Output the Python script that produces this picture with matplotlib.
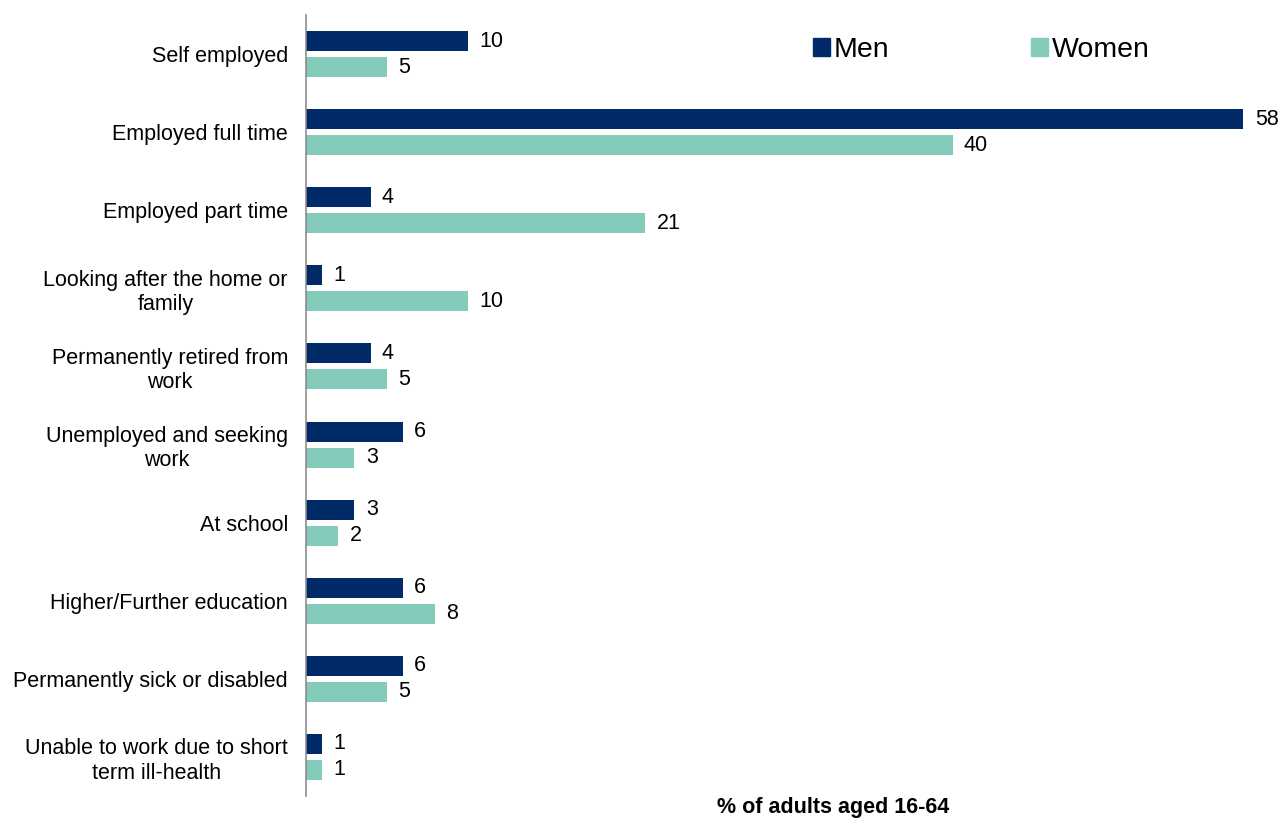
import matplotlib.pyplot as plt
from matplotlib.patches import Patch

plt.rcParams['font.family'] = ['Liberation Sans', 'DejaVu Sans']

# economic activity by sex, adults aged 16-64
categories = [
    "Self employed",
    "Employed full time",
    "Employed part time",
    "Looking after the home or\nfamily",
    "Permanently retired from\nwork",
    "Unemployed and seeking\nwork",
    "At school",
    "Higher/Further education",
    "Permanently sick or disabled",
    "Unable to work due to short\nterm ill-health",
]
men = [10, 58, 4, 1, 4, 6, 3, 6, 6, 1]
women = [5, 40, 21, 10, 5, 3, 2, 8, 5, 1]

men_color = "#002B68"
women_color = "#84CBBC"

fig = plt.figure(figsize=(12.79, 8.19), dpi=100)
ax = fig.add_axes([306 / 1279, 23 / 819, 1 - 306 / 1279, 781 / 819])

y = list(range(len(categories)))
h = 0.256
off = 0.166
ax.barh([i - off for i in y], men, height=h, color=men_color, label="Men")
ax.barh([i + off for i in y], women, height=h, color=women_color, label="Women")

for i in y:
    ax.text(men[i] + 0.7, i - off, str(men[i]), va="center", ha="left",
            fontsize=15.5, clip_on=False)
    ax.text(women[i] + 0.7, i + off, str(women[i]), va="center", ha="left",
            fontsize=15.5, clip_on=False)

ax.set_xlim(0, 60.2)
ax.set_ylim(len(categories) - 0.5, -0.5)
ax.set_yticks(y)
ax.set_yticklabels(categories, fontsize=15.5, multialignment="center")
ax.tick_params(axis="y", length=0, pad=13)
ax.set_xticks([])

for s in ["top", "right", "bottom"]:
    ax.spines[s].set_visible(False)
ax.spines["left"].set_color("#8c8c8c")
ax.spines["left"].set_linewidth(1.2)

handles = [Patch(color=men_color, label="Men"), Patch(color=women_color, label="Women")]
fig.legend(handles=handles, loc="center left", bbox_to_anchor=(787 / 1279, 1 - 50 / 819),
           ncol=2, frameon=False, fontsize=20.5, handlelength=0.6, handleheight=0.6,
           handletextpad=0.15, columnspacing=4.95)

fig.text(833 / 1279, 1 - 808 / 819, "% of adults aged 16-64", ha="center", va="center",
         fontsize=15.5, fontweight="bold")

fig.savefig("out.png", dpi=100)
